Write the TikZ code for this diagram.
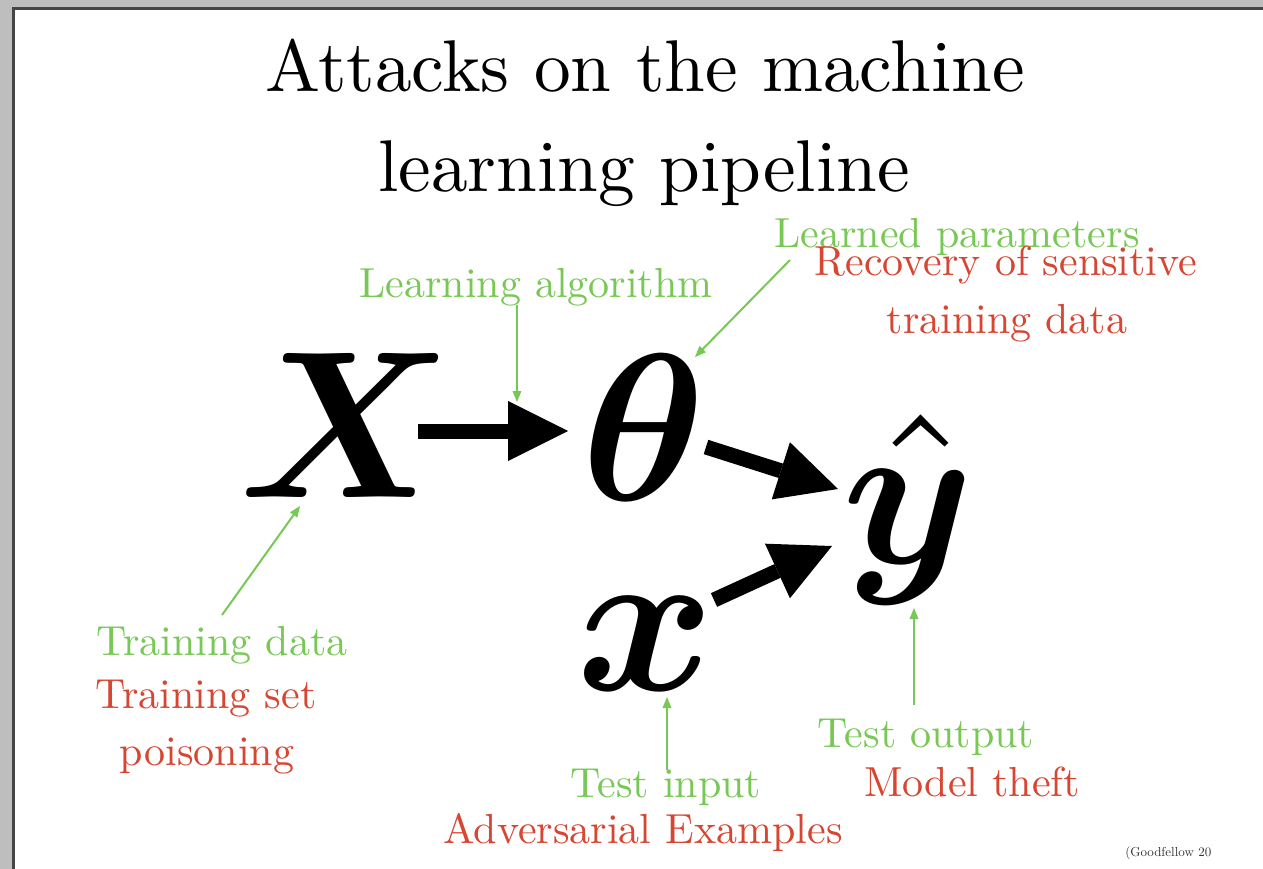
\documentclass[tikz,border=0pt]{standalone}
\usepackage{bm}
\usetikzlibrary{arrows.meta}
\definecolor{lgreen}{RGB}{120,200,85}
\definecolor{lred}{RGB}{215,70,50}
\definecolor{frameband}{RGB}{190,190,190}
\definecolor{framedark}{RGB}{70,70,70}
\begin{document}
\begin{tikzpicture}[x=1pt,y=-1pt,
  ttl/.style={font=\fontsize{10}{12}\selectfont, scale=7.33, inner sep=0pt, anchor=base},
  lbl/.style={font=\fontsize{10}{12}\selectfont, scale=4.2, inner sep=0pt, anchor=base},
  gtxt/.style={lbl, text=lgreen},
  rtxt/.style={lbl, text=lred},
  sym/.style={inner sep=0pt, anchor=base, scale=21},
  bigarrow/.style={line width=15pt, -{Triangle[length=60pt,width=60pt,line width=0pt]}},
  thinarrow/.style={draw=lgreen, line width=2pt, -{Triangle[length=11pt,width=9pt,line width=0pt]}}]

\useasboundingbox (0,0) rectangle (1263,869);
\fill[white] (0,0) rectangle (1263,869);
% screenshot frame
\fill[frameband] (0,0) rectangle (1263,7);
\fill[frameband] (0,0) rectangle (12,869);
\draw[framedark, line width=2.5pt] (13.5,869) -- (13.5,8.5) -- (1263,8.5);

% title
\node[ttl] (t1) at (645,92) {Attacks on the machine};
\node[ttl] (t2) at (644,192) {learning pipeline};

% symbols
\node[sym] (X) at (346,497) {$\bm{X}$};
\node[sym] (theta) at (644,500) {$\bm{\theta}$};
\node[sym] (yhat) at (908,563) {$\hat{\bm{y}}$};
\node[sym] (xin) at (646,690) {$\bm{x}$};

% big arrow end points
\coordinate (a1s) at (418,431);
\coordinate (a1e) at (568,431);
\coordinate (a2s) at (706,447);
\coordinate (a2e) at (838,489);
\coordinate (a3s) at (714,600);
\coordinate (a3e) at (832,546);
\draw[bigarrow] (a1s) -- (a1e);
\draw[bigarrow] (a2s) -- (a2e);
\draw[bigarrow] (a3s) -- (a3e);

% labels
\node[gtxt] (la) at (536,297) {Learning algorithm};
\node[gtxt] (lp) at (957,247) {Learned parameters};
\node[rtxt] (rs1) at (1006,275) {Recovery of sensitive};
\node[rtxt] (rs2) at (1007,333) {training data};
\node[gtxt] (td) at (222,655) {Training data};
\node[rtxt] (ts1) at (206,708) {Training set};
\node[rtxt] (ts2) at (207,765) {poisoning};
\node[gtxt] (ti) at (666,797) {Test input};
\node[rtxt] (ae) at (643,843) {Adversarial Examples};
\node[gtxt] (to) at (926,747) {Test output};
\node[rtxt] (mt) at (972,796) {Model theft};

% thin green arrows
\coordinate (g1s) at (517,305);
\coordinate (g1e) at (517,402);
\coordinate (g2s) at (790,260);
\coordinate (g2e) at (695,357);
\coordinate (g3s) at (222,615);
\coordinate (g3e) at (300,506);
\coordinate (g4s) at (667,770);
\coordinate (g4e) at (667,697);
\coordinate (g5s) at (914,705);
\coordinate (g5e) at (914,608);
\draw[thinarrow] (g1s) -- (g1e);
\draw[thinarrow] (g2s) -- (g2e);
\draw[thinarrow] (g3s) -- (g3e);
\draw[thinarrow] (g4s) -- (g4e);
\draw[thinarrow] (g5s) -- (g5e);

% citation (cut at the slide edge)
\begin{scope}
\clip (1100,830) rectangle (1213,869);
\node[font=\fontsize{10}{12}\selectfont, scale=1.3, inner sep=0pt, anchor=base west, text=black!80] (cite) at (1125,856) {(Goodfellow 20};
\end{scope}
\end{tikzpicture}
\end{document}
